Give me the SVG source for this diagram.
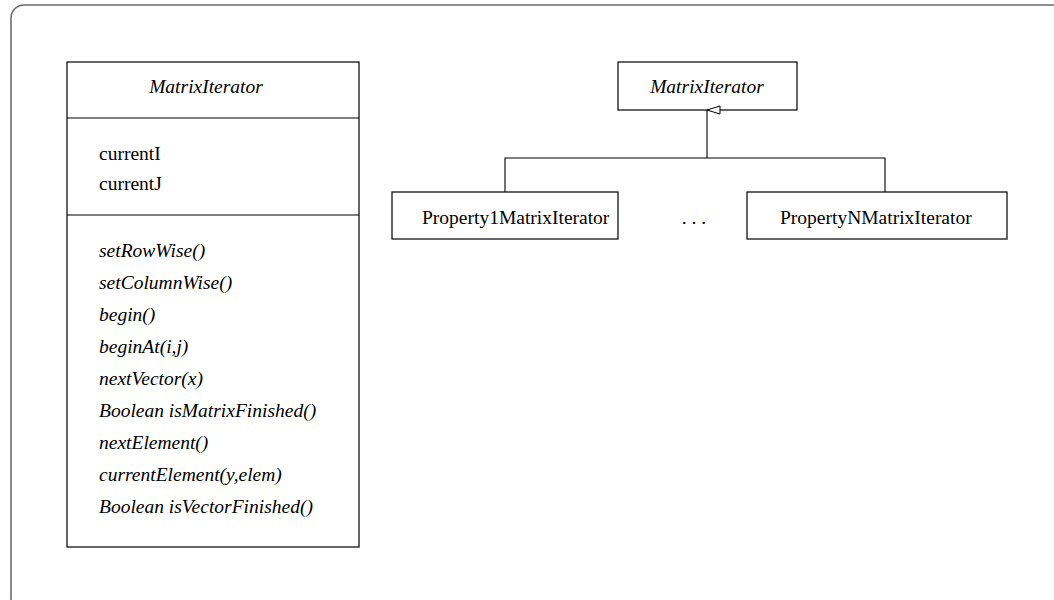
<svg xmlns="http://www.w3.org/2000/svg" width="1054" height="600" viewBox="0 0 1054 600">
  <style>
    .frame { fill: #fff; stroke: #6e6e6e; stroke-width: 1.6; }
    .box { fill: #fff; stroke: #000; stroke-width: 1.2; }
    .sep { stroke: #000; stroke-width: 1.2; }
    .edge { fill: none; stroke: #000; stroke-width: 1.1; }
    .t { font-family: "Liberation Serif", "Times New Roman", serif; font-size: 19.5px; fill: #000; }
    .it { font-style: italic; }
    .c { text-anchor: middle; }
  </style>
  <defs>
    <marker id="inherit" viewBox="0 0 10 14" refX="5" refY="0" markerWidth="10" markerHeight="14" markerUnits="userSpaceOnUse" orient="auto-start-reverse">
      <path d="M5,0 L9,13 L1,13 Z" fill="#fff" stroke="#000" stroke-width="1"/>
    </marker>
  </defs>

  <!-- page frame -->
  <rect class="frame" x="11" y="5" width="1062" height="606" rx="13" ry="13"/>

  <!-- detailed class -->
  <g id="matrixIteratorDetail">
    <rect class="box" x="67" y="62" width="292" height="485"/>
    <line class="sep" x1="67" y1="118" x2="359" y2="118"/>
    <line class="sep" x1="67" y1="215" x2="359" y2="215"/>
    <text class="t it c" x="206" y="93">MatrixIterator</text>
    <text class="t" x="99" y="160">currentI</text>
    <text class="t" x="99" y="190">currentJ</text>
    <text class="t it" x="99" y="257">setRowWise()</text>
    <text class="t it" x="99" y="289">setColumnWise()</text>
    <text class="t it" x="99" y="321">begin()</text>
    <text class="t it" x="99" y="353">beginAt(i,j)</text>
    <text class="t it" x="99" y="385">nextVector(x)</text>
    <text class="t it" x="99" y="417">Boolean isMatrixFinished()</text>
    <text class="t it" x="99" y="449">nextElement()</text>
    <text class="t it" x="99" y="481">currentElement(y,elem)</text>
    <text class="t it" x="99" y="513">Boolean isVectorFinished()</text>
  </g>

  <!-- abstract base -->
  <g id="matrixIterator">
    <rect class="box" x="618" y="62" width="179" height="48"/>
    <text class="t it c" x="707" y="93">MatrixIterator</text>
  </g>

  <!-- subclasses -->
  <g id="property1MatrixIterator">
    <rect class="box" x="392" y="192" width="226" height="47"/>
    <text class="t" x="422" y="224">Property1MatrixIterator</text>
  </g>

  <g id="ellipsis">
    <text class="t c" x="694" y="224">. . .</text>
  </g>

  <g id="propertyNMatrixIterator">
    <rect class="box" x="747" y="192" width="260" height="47"/>
    <text class="t" x="780" y="224">PropertyNMatrixIterator</text>
  </g>

  <!-- generalization connectors -->
  <g id="connectors">
    <path class="edge" d="M707,158 V110" marker-end="url(#inherit)"/>
    <path class="edge" d="M505,192 V158 H885 V192"/>
  </g>
</svg>
